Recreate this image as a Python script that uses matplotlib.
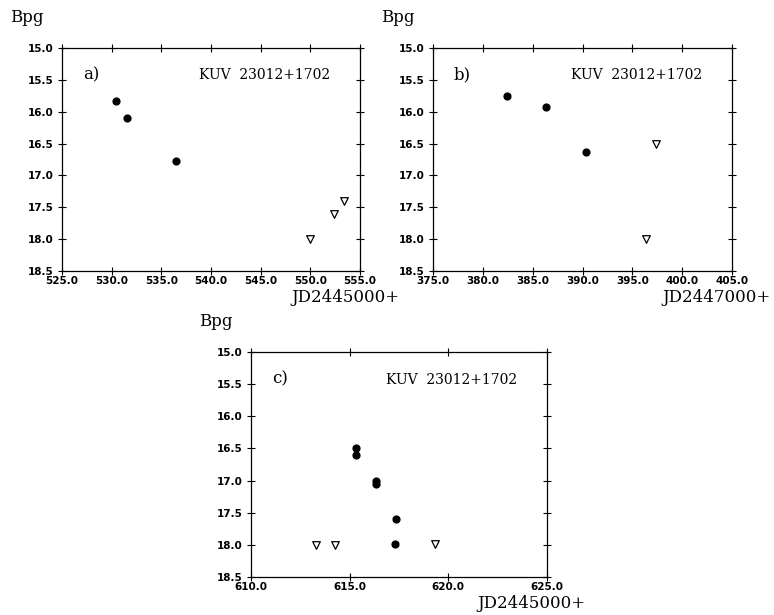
import matplotlib.pyplot as plt

# panel a) JD2445000+
a_det_x = [530.4, 531.5, 536.5]
a_det_y = [15.83, 16.10, 16.78]
a_lim_x = [550.0, 552.4, 553.4]
a_lim_y = [18.00, 17.60, 17.40]

# panel b) JD2447000+
b_det_x = [382.4, 386.3, 390.35]
b_det_y = [15.76, 15.93, 16.64]
b_lim_x = [397.35, 396.4]
b_lim_y = [16.50, 17.99]

# panel c) JD2445000+
c_det_x = [615.31, 615.33, 616.31, 616.33, 617.37, 617.32]
c_det_y = [16.49, 16.60, 17.01, 17.05, 17.60, 17.99]
c_lim_x = [613.3, 614.28, 619.32]
c_lim_y = [18.0, 18.0, 17.98]

serif = 'DejaVu Serif'
W, H = 774, 615

fig = plt.figure(figsize=(W / 100, H / 100), dpi=100)


def panel(px, det_x, det_y, lim_x, lim_y, xlim, xstep, tag, xlabel):
    x0, x1, y0, y1 = px
    ax = fig.add_axes([x0 / W, 1 - y1 / H, (x1 - x0) / W, (y1 - y0) / H])
    ax.scatter(det_x, det_y, s=24, c='black', marker='o', zorder=3)
    ax.scatter(lim_x, lim_y, s=30, facecolors='white', edgecolors='black',
               marker='v', linewidths=0.9, zorder=3)
    ax.set_xlim(*xlim)
    ax.set_ylim(18.5, 15.0)
    xt = [xlim[0] + i * xstep for i in range(int(round((xlim[1] - xlim[0]) / xstep)) + 1)]
    ax.set_xticks(xt)
    ax.set_xticklabels([f'{v:.1f}' for v in xt])
    yt = [15.0 + 0.5 * i for i in range(8)]
    ax.set_yticks(yt)
    ax.set_yticklabels([f'{v:.1f}' for v in yt])
    ax.tick_params(direction='inout', top=True, right=True, length=6, width=0.8,
                   labelsize=7.5)
    ax.tick_params(axis='x', pad=0.5)
    ax.tick_params(axis='y', pad=3)
    for lab in ax.get_xticklabels() + ax.get_yticklabels():
        lab.set_fontweight('bold')
    for s in ax.spines.values():
        s.set_linewidth(0.9)
    ax.text(0.07, 0.86, tag, transform=ax.transAxes, fontsize=12, family=serif)
    ax.text(0.90, 0.86, 'KUV  23012+1702', transform=ax.transAxes, fontsize=10,
            family=serif, ha='right')
    fig.text((x1 + 39) / W, 1 - (y1 + 26) / H, xlabel, fontsize=12, family=serif,
             ha='right', va='center')
    fig.text((x0 - 52) / W, 1 - (y0 - 30) / H, 'Bpg', fontsize=12, family=serif,
             va='center')
    return ax


panel((62, 360, 48, 271), a_det_x, a_det_y, a_lim_x, a_lim_y, (525.0, 555.0), 5.0,
      'a)', 'JD2445000+')
panel((433, 732, 48, 271), b_det_x, b_det_y, b_lim_x, b_lim_y, (375.0, 405.0), 5.0,
      'b)', 'JD2447000+')
panel((251, 547, 352, 577), c_det_x, c_det_y, c_lim_x, c_lim_y, (610.0, 625.0), 5.0,
      'c)', 'JD2445000+')

fig.savefig('out.png', dpi=100)
